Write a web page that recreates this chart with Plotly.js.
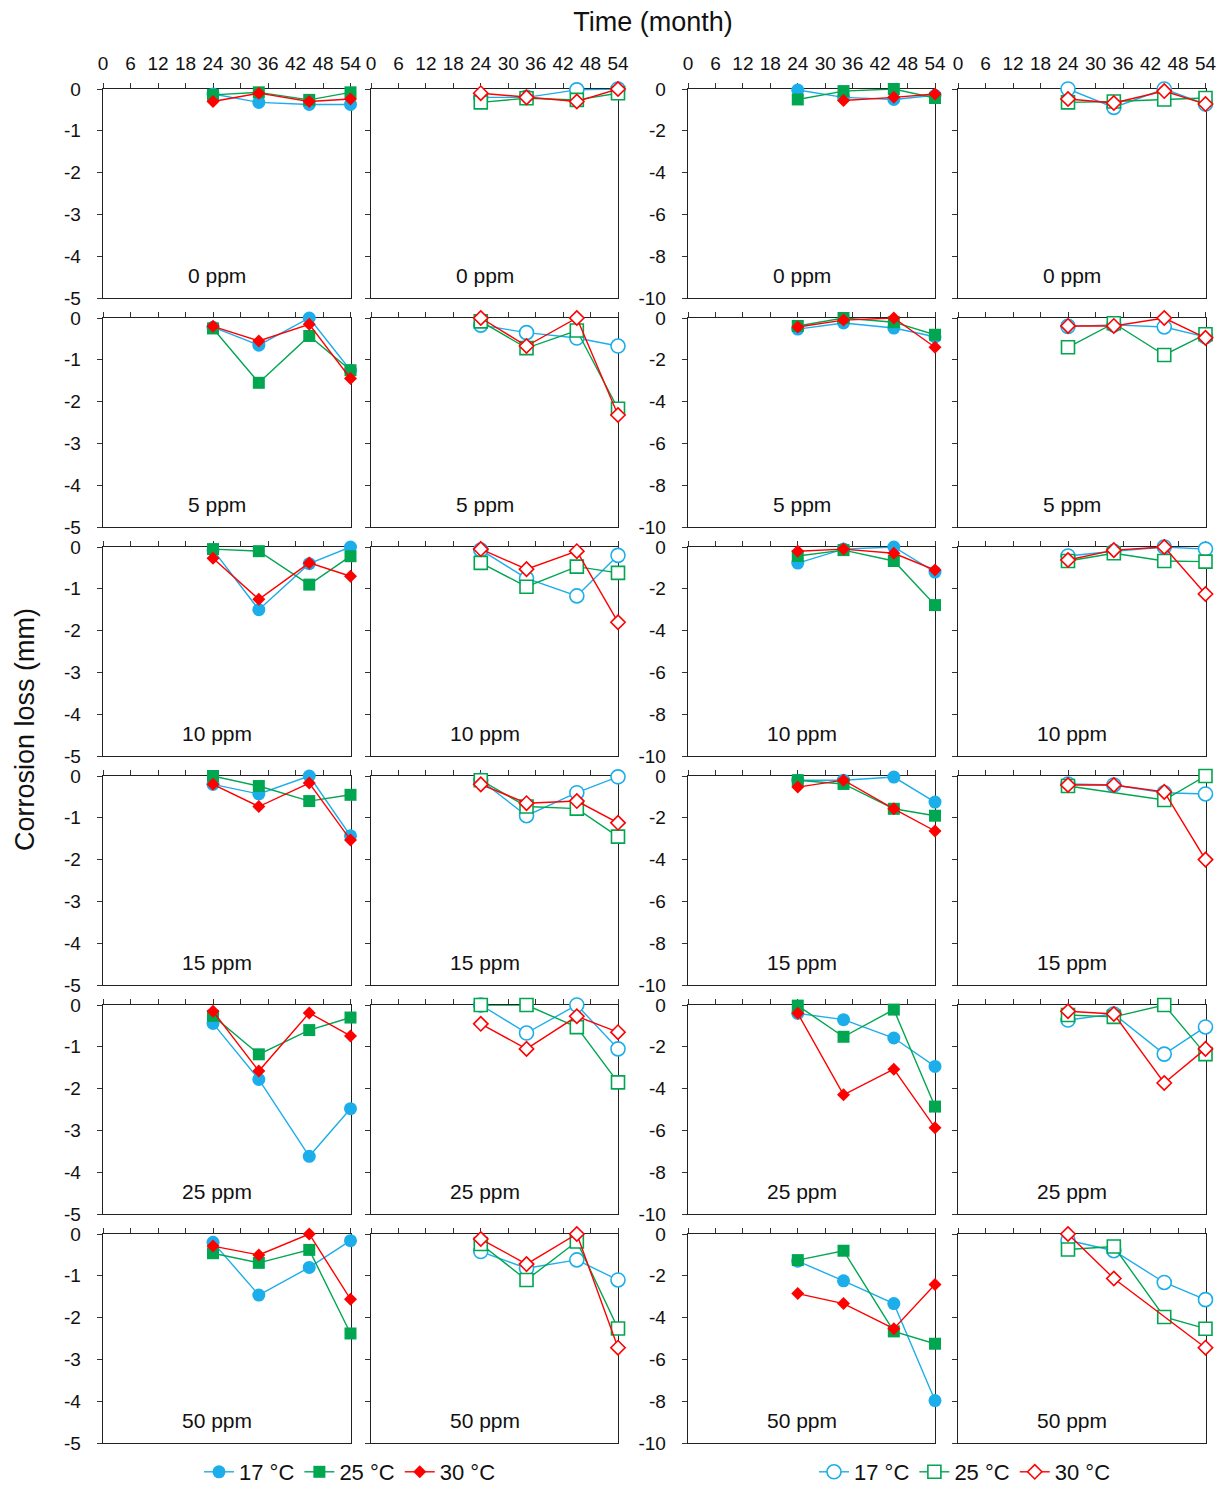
<!DOCTYPE html>
<html>
<head>
<meta charset="utf-8">
<script src="https://cdn.plot.ly/plotly-3.0.1.min.js"></script>
<style>html,body{margin:0;padding:0;background:#fff;}</style>
</head>
<body>
<div id="chart" style="width:1228px;height:1486px;"></div>
<script>
// ---------- DATA ----------
const months = [24, 34, 45, 54];
const ppmLabels = ['0 ppm', '5 ppm', '10 ppm', '15 ppm', '25 ppm', '50 ppm'];
const xTicks = [0, 6, 12, 18, 24, 30, 36, 42, 48, 54];
const tempLabels = ['17 °C', '25 °C', '30 °C'];

// Column 1 (filled markers, 0 to -5 mm)
const colA_17 = [[-0.12,-0.32,-0.37,-0.37],[-0.22,-0.65,0,-1.25],[-0.07,-1.5,-0.4,0],[-0.2,-0.43,0,-1.43],[-0.44,-1.78,-3.62,-2.48],[-0.2,-1.46,-0.8,-0.16]];
const colA_25 = [[-0.14,-0.08,-0.26,-0.08],[-0.25,-1.55,-0.43,-1.25],[-0.05,-0.1,-0.9,-0.22],[0,-0.24,-0.6,-0.45],[-0.26,-1.18,-0.6,-0.3],[-0.46,-0.69,-0.38,-2.38]];
const colA_30 = [[-0.3,-0.1,-0.3,-0.24],[-0.2,-0.55,-0.15,-1.45],[-0.27,-1.25,-0.38,-0.7],[-0.2,-0.73,-0.17,-1.53],[-0.15,-1.58,-0.19,-0.74],[-0.29,-0.5,0,-1.56]];

// Column 2 (open markers, 0 to -5 mm)
const colB_17 = [[-0.2,-0.2,-0.02,0],[-0.17,-0.35,-0.48,-0.67],[-0.07,-0.75,-1.17,-0.2],[-0.1,-0.95,-0.4,-0.02],[0,-0.67,0,-1.05],[-0.42,-0.82,-0.62,-1.1]];
const colB_25 = [[-0.32,-0.22,-0.26,-0.1],[-0.08,-0.72,-0.3,-2.17],[-0.38,-0.95,-0.47,-0.62],[-0.1,-0.73,-0.78,-1.45],[0,0,-0.53,-1.85],[-0.24,-1.1,-0.18,-2.26]];
const colB_30 = [[-0.1,-0.2,-0.3,0],[0,-0.67,0,-2.32],[-0.05,-0.53,-0.1,-1.8],[-0.2,-0.65,-0.6,-1.12],[-0.45,-1.05,-0.27,-0.65],[-0.12,-0.72,0,-2.72]];

// Column 3 (filled markers, 0 to -10 mm)
const colC_17 = [[-0.05,-0.4,-0.5,-0.3],[-0.53,-0.24,-0.48,-0.9],[-0.77,-0.1,0,-1.2],[-0.2,-0.2,-0.05,-1.25],[-0.4,-0.7,-1.58,-2.94],[-1.3,-2.24,-3.33,-7.97]];
const colC_25 = [[-0.5,-0.1,0,-0.43],[-0.38,0,-0.2,-0.8],[-0.43,-0.15,-0.67,-2.78],[-0.2,-0.38,-1.57,-1.9],[-0.03,-1.52,-0.22,-4.86],[-1.25,-0.8,-4.66,-5.25]];
const colC_30 = [[null,-0.55,-0.4,-0.24],[-0.43,-0.1,0,-1.4],[-0.2,-0.1,-0.3,-1.1],[-0.53,-0.2,-1.57,-2.63],[-0.4,-4.3,-3.07,-5.87],[-2.85,-3.33,-4.53,-2.42]];

// Column 4 (open markers, 0 to -10 mm)
const colD_17 = [[0,-0.88,0,-0.72],[-0.4,-0.33,-0.43,-0.9],[-0.43,-0.2,0,-0.1],[-0.38,-0.43,-0.8,-0.86],[-0.72,-0.43,-2.35,-1.05],[-0.3,-0.8,-2.32,-3.14]];
const colD_25 = [[-0.64,-0.6,-0.5,-0.43],[-1.4,-0.25,-1.77,-0.78],[-0.67,-0.3,-0.67,-0.7],[-0.48,null,-1.15,0],[-0.48,-0.57,0,-2.35],[-0.74,-0.6,-3.97,-4.53]];
const colD_30 = [[-0.48,-0.67,-0.1,-0.72],[-0.38,-0.38,0,-0.95],[-0.62,-0.15,0,-2.25],[-0.43,-0.43,-0.76,-4.0],[-0.3,-0.43,-3.73,-2.1],[0,-2.13,null,-5.44]];

// ---------- LAYOUT / STYLE ----------
const W = 1228, H = 1486;
const FONT = 'Arial, "Liberation Sans", Helvetica, sans-serif';
const colPx = [[103, 350.5], [371, 618], [688, 935], [958, 1205.5]];
const rowTop0 = 89, rowPitch = 229, rowH = 209;
const colors = ['#1BAEEA', '#00A650', '#FF0000'];
const filledSym = ['circle', 'square', 'diamond'];
const filledSize = [13, 12, 10];
const openSize = [14, 13, 11];

const columns = [
  {data: [colA_17, colA_25, colA_30], open: false, ymin: -5, dtick: 1, labels: true, legend: 'legend'},
  {data: [colB_17, colB_25, colB_30], open: true, ymin: -5, dtick: 1, labels: false, legend: 'legend2'},
  {data: [colC_17, colC_25, colC_30], open: false, ymin: -10, dtick: 2, labels: true, legend: 'legend'},
  {data: [colD_17, colD_25, colD_30], open: true, ymin: -10, dtick: 2, labels: false, legend: 'legend2'}
];

const traces = [];
const layout = {
  width: W, height: H,
  margin: {l: 0, r: 0, t: 0, b: 0, autoexpand: false},
  paper_bgcolor: '#fff', plot_bgcolor: '#fff',
  font: {family: FONT, size: 19, color: '#111'},
  showlegend: true,
  title: {text: 'Time (month)', x: 653 / W, y: 1 - 22 / H, xanchor: 'center', yanchor: 'middle',
          font: {family: FONT, size: 27, color: '#111'}},
  annotations: [],
  legend: {orientation: 'h', x: 350 / W, xanchor: 'center', y: 1 - 1472 / H, yanchor: 'middle',
           font: {family: FONT, size: 22, color: '#111'}, bgcolor: 'rgba(0,0,0,0)', itemwidth: 30, traceorder: 'normal'},
  legend2: {orientation: 'h', x: 965 / W, xanchor: 'center', y: 1 - 1472 / H, yanchor: 'middle',
           font: {family: FONT, size: 22, color: '#111'}, bgcolor: 'rgba(0,0,0,0)', itemwidth: 30, traceorder: 'normal'}
};

for (let r = 0; r < 6; r++) {
  const top = rowTop0 + rowPitch * r;
  for (let c = 0; c < 4; c++) {
    const k = r * 4 + c + 1;
    const xa = 'xaxis' + (k === 1 ? '' : k);
    const ya = 'yaxis' + (k === 1 ? '' : k);
    const xid = 'x' + (k === 1 ? '' : k);
    const yid = 'y' + (k === 1 ? '' : k);
    const col = columns[c];
    layout[xa] = {
      domain: [colPx[c][0] / W, colPx[c][1] / W],
      anchor: yid, side: 'top', range: [0, 54],
      tickmode: 'array', tickvals: xTicks, ticktext: xTicks.map(String),
      ticks: 'outside', ticklen: 5, tickwidth: 1, tickcolor: '#333',
      showticklabels: r === 0, tickangle: 0, ticklabelstandoff: 5,
      tickfont: {family: FONT, size: 19, color: '#111'},
      showline: true, linecolor: '#222', linewidth: 1.3, mirror: true,
      showgrid: false, zeroline: false, fixedrange: true, layer: 'below traces', automargin: false
    };
    const yvals = [];
    for (let v = 0; v >= col.ymin; v -= col.dtick) yvals.push(v);
    layout[ya] = {
      domain: [1 - (top + rowH) / H, 1 - top / H],
      anchor: xid, range: [col.ymin, 0],
      tickmode: 'array', tickvals: yvals, ticktext: yvals.map(String),
      ticks: 'outside', ticklen: 5, tickwidth: 1, tickcolor: '#333',
      showticklabels: col.labels, ticklabelstandoff: 12,
      tickfont: {family: FONT, size: 19, color: '#111'},
      showline: true, linecolor: '#222', linewidth: 1.3, mirror: true,
      showgrid: false, zeroline: false, fixedrange: true, layer: 'below traces', automargin: false
    };
    layout.annotations.push({
      text: ppmLabels[r], xref: xid + ' domain', yref: yid + ' domain',
      x: 0.46, y: 0.11, xanchor: 'center', yanchor: 'middle', showarrow: false,
      font: {family: FONT, size: 21, color: '#111'}
    });
    for (let s = 0; s < 3; s++) {
      const marker = col.open
        ? {symbol: filledSym[s], size: openSize[s], color: '#fff', line: {color: colors[s], width: 1.6}}
        : {symbol: filledSym[s], size: filledSize[s], color: colors[s], line: {width: 0}};
      traces.push({
        type: 'scatter', mode: 'lines+markers',
        x: months, y: col.data[s][r],
        xaxis: xid, yaxis: yid,
        name: tempLabels[s],
        line: {color: colors[s], width: 1.4},
        marker: marker,
        connectgaps: true, cliponaxis: false,
        legend: col.legend,
        showlegend: r === 0 && (c === 0 || c === 1),
        hoverinfo: 'skip'
      });
    }
  }
}

layout.annotations.push({
  text: 'Corrosion loss (mm)', xref: 'paper', yref: 'paper',
  x: 25 / W, y: 1 - 730 / H, xanchor: 'center', yanchor: 'middle',
  textangle: -90, showarrow: false, font: {family: FONT, size: 27, color: '#111'}
});

Plotly.newPlot('chart', traces, layout, {staticPlot: true, displayModeBar: false});
</script>
</body>
</html>
